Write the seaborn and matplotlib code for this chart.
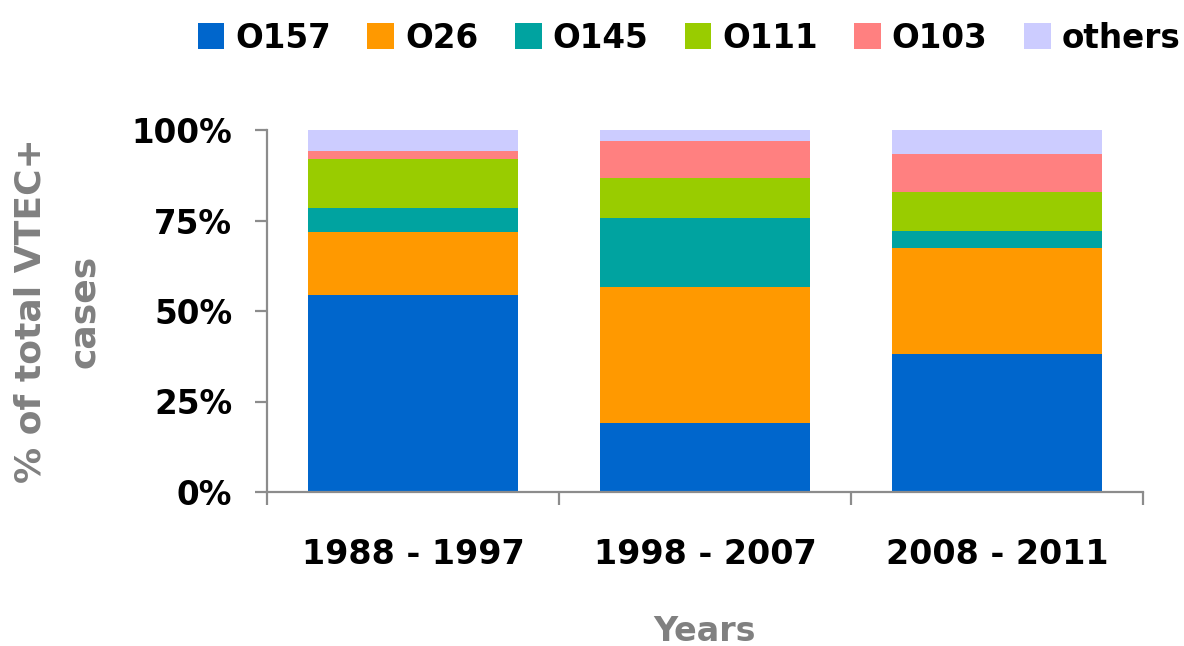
import numpy as np
import pandas as pd
import matplotlib
matplotlib.use("Agg")
import matplotlib.pyplot as plt
from matplotlib.patches import Patch
from matplotlib.ticker import FixedLocator
import seaborn as sns

PERIODS   = ["1988 - 1997", "1998 - 2007", "2008 - 2011"]
SEROTYPES = ["O157", "O26", "O145", "O111", "O103", "others"]
O157   = [54.4, 19.1, 38.1]
O26    = [17.5, 37.5, 29.2]
O145   = [6.5, 19.0, 4.7]
O111   = [13.5, 11.2, 11.0]
O103   = [2.3, 10.2, 10.4]
OTHERS = [5.8, 3.0, 6.6]
COLORS = ["#0066CC", "#FF9900", "#00A3A0", "#99CC00", "#FF8080", "#CCCCFF"]

sns.set_style("white")
plt.rcParams["font.family"] = ["DejaVu Sans"]
plt.rcParams["font.weight"] = "bold"
plt.rcParams["text.color"] = "black"
plt.rcParams["xtick.labelcolor"] = "black"
plt.rcParams["ytick.labelcolor"] = "black"

shares = pd.DataFrame([O157, O26, O145, O111, O103, OTHERS],
                      index=SEROTYPES, columns=PERIODS).T
cum = shares.cumsum(axis=1)

fig = plt.figure(figsize=(11.84, 6.46), dpi=100)
ax = fig.add_axes([267 / 1184, 1 - 492 / 646, 876 / 1184, 362 / 646])

# draw stacked bars top layer first so lower layers overdraw
for name, color in reversed(list(zip(SEROTYPES, COLORS))):
    d = pd.DataFrame({"period": PERIODS, "top": cum[name].values})
    sns.barplot(data=d, x="period", y="top", color=color, saturation=1,
                width=0.72, linewidth=0, ax=ax)

ax.set_xlim(-0.5, 2.5)
ax.set_ylim(0, 100)
ax.set_yticks([0, 25, 50, 75, 100])
ax.set_yticklabels([f"{v}%" for v in [0, 25, 50, 75, 100]])
ax.xaxis.set_minor_locator(FixedLocator([-0.5, 0.5, 1.5, 2.5]))

axis_gray = "#8C8C8C"
for s in ["top", "right"]:
    ax.spines[s].set_visible(False)
for s in ["left", "bottom"]:
    ax.spines[s].set_color(axis_gray)
    ax.spines[s].set_linewidth(1.6)

ax.tick_params(axis="y", which="major", direction="out", length=9, width=1.6,
               color=axis_gray, pad=16, labelsize=23.5, left=True,
               labelcolor="black")
ax.tick_params(axis="x", which="major", length=0, pad=33, labelsize=24,
               labelcolor="black")
ax.tick_params(axis="x", which="minor", direction="out", length=9.5,
               width=1.6, color=axis_gray, bottom=True)
for lab in ax.get_xticklabels() + ax.get_yticklabels():
    lab.set_fontweight("bold")

ax.set_xlabel("Years", fontsize=24, fontweight="bold", color="#808080")
ax.xaxis.set_label_coords(0.5, -0.34)
ax.set_ylabel("% of total VTEC+\ncases", fontsize=26, fontweight="bold",
              color="#808080", linespacing=1.7)
ax.yaxis.set_label_coords(-0.19, 0.5)

handles = [Patch(facecolor=c, edgecolor="none", label=n)
           for n, c in zip(SEROTYPES, COLORS)]
leg = fig.legend(handles=handles, loc="center", ncol=6, frameon=False,
                 bbox_to_anchor=(689 / 1184, 1 - 38 / 646),
                 prop={"size": 23.5, "weight": "bold"},
                 handlelength=0.82, handleheight=0.82,
                 handletextpad=0.33, columnspacing=1.12)
for t in leg.get_texts():
    t.set_color("black")

fig.savefig("out.png", dpi=100)
